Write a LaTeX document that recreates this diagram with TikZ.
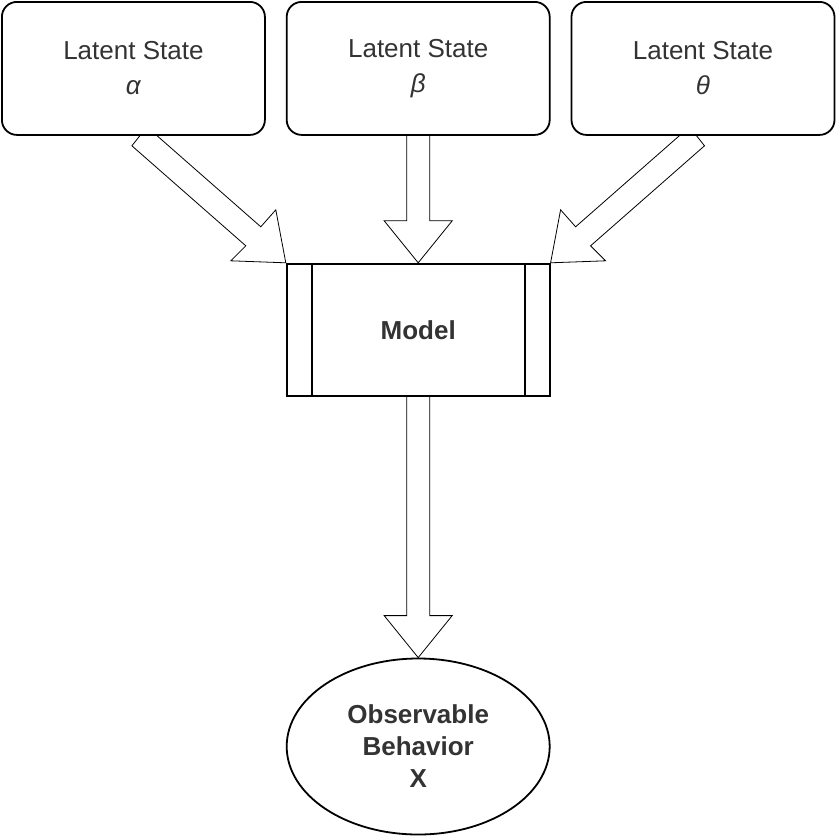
\documentclass[tikz,border=0pt]{standalone}
\usepackage{fontspec}
\setmainfont{Liberation Sans}
\usetikzlibrary{positioning,calc,shapes.geometric,backgrounds}

\tikzset{
  latent/.style={draw, rounded corners=7.5pt, minimum width=131.5pt, minimum height=66.5pt,
    align=center, fill=white, text=black!80, font=\fontsize{13}{17.5}\selectfont},
  modelbox/.style={draw, minimum width=131.5pt, minimum height=66pt, fill=white,
    text=black!80, font=\bfseries\fontsize{13}{16}\selectfont},
  observ/.style={draw, ellipse, minimum width=131.5pt, minimum height=88pt, inner sep=0pt,
    align=center, fill=white, text=black!80, font=\bfseries\fontsize{13}{16}\selectfont},
  fat/.style={draw, fill=white, line join=miter}
}

\begin{document}
\begin{tikzpicture}[x=0.5pt, y=-0.5pt, line width=0.9pt]
\useasboundingbox (0,0) rectangle (837,837);

% The three latent states along the top
\node[latent, anchor=north west] (alpha) at (1,1) {Latent State\\{\itshape α}};
\node[latent, right=10pt of alpha] (beta) {Latent State\\{\itshape β}};
\node[latent, right=10pt of beta] (theta) {Latent State\\{\itshape θ}};

% The model, with its two side bars
\node[modelbox, below=63.5pt of beta] (model) {Model};
\draw ([xshift=13pt]model.north west) -- ([xshift=13pt]model.south west);
\draw ([xshift=-13pt]model.north east) -- ([xshift=-13pt]model.south east);

% What we see
\node[observ, below=130.5pt of model] (obs) {Observable\\Behavior\\X};

% Wide hollow arrows, behind the boxes
\begin{pgfonlayer}{background}
% alpha into the left corner of the model
\draw[fat] ($(alpha.south)+(-1.5,10)$) -- ($(model.north west)+(-40,-17)$)
  -- ($(model.north west)+(-55,-2)$) -- (model.north west)
  -- ($(model.north west)+(-10,-53)$) -- ($(model.north west)+(-25,-36)$)
  -- ($(alpha.south)+(13.5,-9)$) -- cycle;
% beta straight down
\draw[fat] ($(beta.south)+(-11.5,-2)$) -- ($(model.north)+(-11.5,-42)$)
  -- ($(model.north)+(-34,-42)$) -- (model.north)
  -- ($(model.north)+(34,-42)$) -- ($(model.north)+(11.5,-42)$)
  -- ($(beta.south)+(11.5,-2)$) -- cycle;
% theta into the right corner of the model
\draw[fat] ($(theta.south)+(1.5,10)$) -- ($(model.north east)+(40,-17)$)
  -- ($(model.north east)+(55,-2)$) -- (model.north east)
  -- ($(model.north east)+(10,-53)$) -- ($(model.north east)+(25,-36)$)
  -- ($(theta.south)+(-13.5,-9)$) -- cycle;
% model down to the behavior
\draw[fat] ($(model.south)+(-11.5,-2)$) -- ($(obs.north)+(-11.5,-42)$)
  -- ($(obs.north)+(-34,-42)$) -- (obs.north)
  -- ($(obs.north)+(34,-42)$) -- ($(obs.north)+(11.5,-42)$)
  -- ($(model.south)+(11.5,-2)$) -- cycle;
\end{pgfonlayer}
\end{tikzpicture}
\end{document}
